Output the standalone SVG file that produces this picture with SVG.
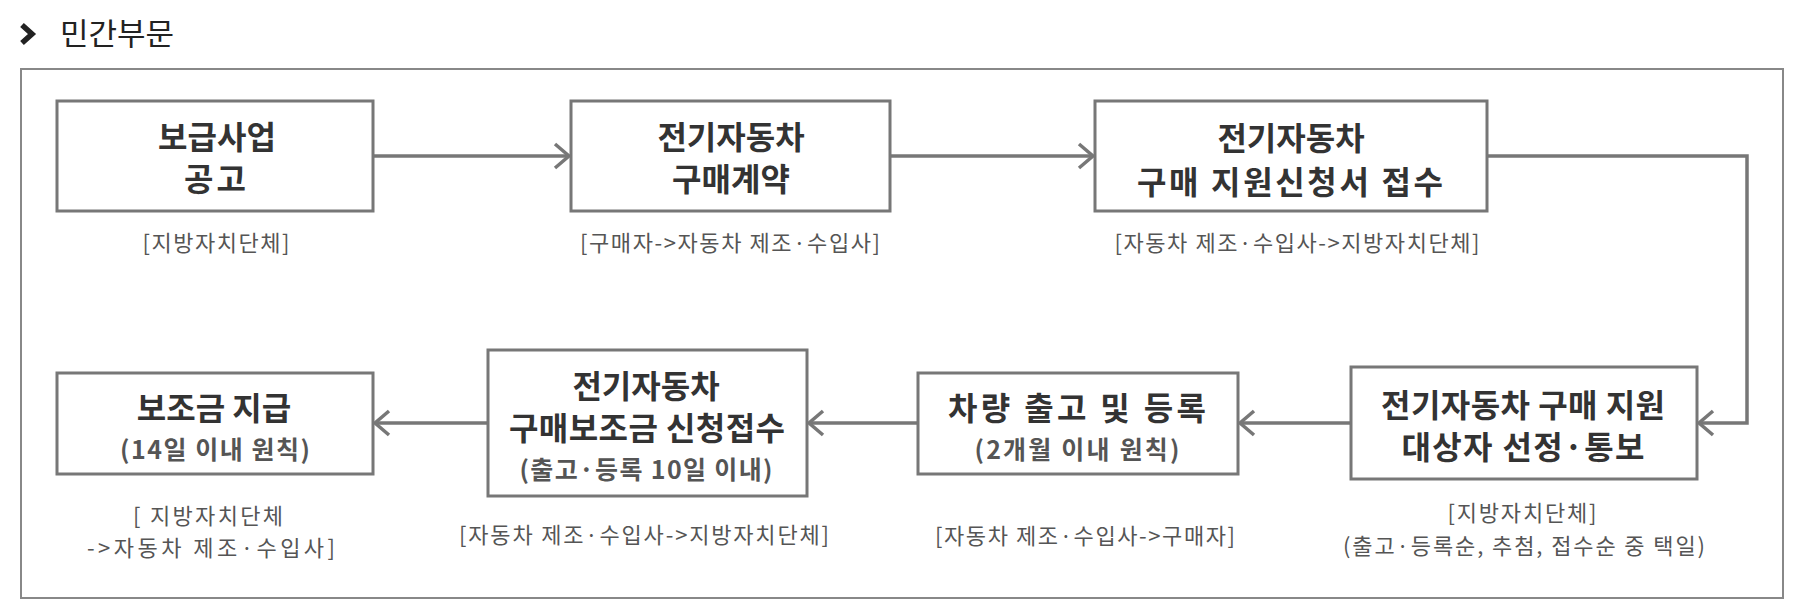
<svg xmlns="http://www.w3.org/2000/svg" width="1800" height="615" viewBox="0 0 1800 615">
<defs>
<style>
.box{fill:#fff;stroke:#777;stroke-width:3}
.t{font-family:"Noto Sans CJK KR","Noto Sans",sans-serif;font-weight:700;font-size:32px;fill:#333;text-anchor:middle}
.s{font-family:"Noto Sans CJK KR","Noto Sans",sans-serif;font-weight:700;font-size:25px;fill:#555;text-anchor:middle}
.l{font-family:"Noto Sans CJK KR","Noto Sans",sans-serif;font-weight:400;font-size:22px;fill:#555;text-anchor:middle}
.c{fill:none;stroke:#777;stroke-width:3.5}
</style>
<marker id="ah" markerUnits="userSpaceOnUse" markerWidth="20" markerHeight="30" viewBox="0 0 20 30" refX="17" refY="15" orient="auto">
<path d="M3,3 L17,15 L3,27" fill="none" stroke="#777" stroke-width="3.5"/>
</marker>
</defs>
<rect width="1800" height="615" fill="#fff"/>
<g id="title">
<path d="M22,25 L32,34 L22,43" fill="none" stroke="#222" stroke-width="5.5"/>
<text x="60" y="45" font-family="Noto Sans CJK KR, Noto Sans, sans-serif" font-size="31" fill="#222">민간부문</text>
</g>
<rect id="frame" x="21" y="69" width="1762" height="529" fill="none" stroke="#888" stroke-width="2"/>
<g id="connectors">
<line class="c" x1="373" y1="156" x2="569" y2="156" marker-end="url(#ah)"/>
<line class="c" x1="890" y1="156" x2="1093" y2="156" marker-end="url(#ah)"/>
<polyline class="c" points="1487,156 1747,156 1747,423 1699,423" marker-end="url(#ah)"/>
<line class="c" x1="1351" y1="423" x2="1240" y2="423" marker-end="url(#ah)"/>
<line class="c" x1="918" y1="423" x2="809" y2="423" marker-end="url(#ah)"/>
<line class="c" x1="488" y1="423" x2="375" y2="423" marker-end="url(#ah)"/>
</g>
<g id="n1">
<rect class="box" x="57" y="101" width="316" height="110"/>
<text class="t" x="217" y="149">보급사업</text>
<text class="t" x="215" y="191" textLength="62">공고</text>
<text class="l" x="216" y="251" textLength="147">[지방자치단체]</text>
</g>
<g id="n2">
<rect class="box" x="571" y="101" width="319" height="110"/>
<text class="t" x="731" y="149">전기자동차</text>
<text class="t" x="731" y="191">구매계약</text>
<text class="l" x="730" y="251" textLength="300">[구매자-&gt;자동차 제조·수입사]</text>
</g>
<g id="n3">
<rect class="box" x="1095" y="101" width="392" height="110"/>
<text class="t" x="1291" y="150">전기자동차</text>
<text class="t" x="1290" y="194" textLength="306">구매 지원신청서 접수</text>
<text class="l" x="1297" y="251" textLength="365">[자동차 제조·수입사-&gt;지방자치단체]</text>
</g>
<g id="n7">
<rect class="box" x="1351" y="367" width="346" height="112"/>
<text class="t" x="1523" y="417" textLength="284">전기자동차 구매 지원</text>
<text class="t" x="1523" y="459" textLength="243">대상자 선정·통보</text>
<text class="l" x="1522" y="521" textLength="149">[지방자치단체]</text>
<text class="l" x="1524" y="554" textLength="362">(출고·등록순, 추첨, 접수순 중 택일)</text>
</g>
<g id="n6">
<rect class="box" x="918" y="373" width="320" height="101"/>
<text class="t" x="1077" y="420" textLength="258">차량 출고 및 등록</text>
<text class="s" x="1077" y="459" textLength="205">(2개월 이내 원칙)</text>
<text class="l" x="1085" y="544" textLength="300">[자동차 제조·수입사-&gt;구매자]</text>
</g>
<g id="n5">
<rect class="box" x="488" y="350" width="319" height="146"/>
<text class="t" x="646" y="398">전기자동차</text>
<text class="t" x="647" y="440" textLength="276">구매보조금 신청접수</text>
<text class="s" x="646" y="479" textLength="253">(출고·등록 10일 이내)</text>
<text class="l" x="644" y="543" textLength="370">[자동차 제조·수입사-&gt;지방자치단체]</text>
</g>
<g id="n4">
<rect class="box" x="57" y="373" width="316" height="101"/>
<text class="t" x="214" y="420">보조금 지급</text>
<text class="s" x="215" y="459" textLength="190">(14일 이내 원칙)</text>
<text class="l" x="208" y="524" textLength="150">[ 지방자치단체</text>
<text class="l" x="211" y="556" textLength="248">-&gt;자동차 제조·수입사]</text>
</g>
</svg>
